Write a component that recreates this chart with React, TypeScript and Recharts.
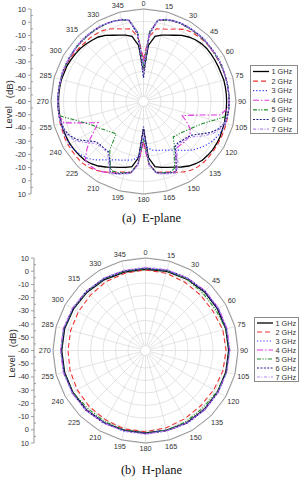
import React from 'react';
import {
  RadarChart, Radar, PolarGrid, PolarAngleAxis, PolarRadiusAxis, Legend,
  ComposedChart, YAxis, XAxis,
} from 'recharts';

// ---------- categories / ticks ----------
const seriesNames = ['1 GHz', '2 GHz', '3 GHz', '4 GHz', '5 GHz', '6 GHz', '7 GHz'];
const angleTicks = [0, 15, 30, 45, 60, 75, 90, 105, 120, 135, 150, 165, 180, 195, 210, 225, 240, 255, 270, 285, 300, 315, 330, 345];
const radialTicks = [-60, -50, -40, -30, -20, -10, 0, 10];
const levelTicks = [-70, -65, -60, -55, -50, -45, -40, -35, -30, -25, -20, -15, -10, -5, 0, 5, 10, 15, 20, 25, 30, 35, 40, 45, 50, 55, 60, 65, 70];

const eAngles = [
  0, 5, 10, 15, 20, 25, 30, 35, 40, 45, 50, 55,
  60, 65, 70, 75, 80, 85, 90, 95, 100, 105, 110, 115,
  120, 125, 130, 135, 140, 145, 150, 155, 160, 165, 170, 175,
  180, 185, 190, 195, 200, 205, 210, 215, 220, 225, 230, 235,
  240, 245, 250, 255, 260, 265, 270, 275, 280, 285, 290, 295,
  300, 305, 310, 315, 320, 325, 330, 335, 340, 345, 350, 355,
];
const hAngles = [0, 15, 30, 45, 60, 75, 90, 105, 120, 135, 150, 165, 180, 195, 210, 225, 240, 255, 270, 285, 300, 315, 330, 345];

// ---------- E-plane (dB) ----------
const e1GHz = [
  -40, -19, -11, -9, -7.5, -5.5, -3, -1, 0.5, 1.5, 2, 2,
  2, 2, 2, 2.5, 2.5, 2.5, 2.5, 2.5, 2.5, 3, 3, 3.5,
  3.5, 3.5, 3, 2.5, 1, -1, -3.5, -6, -8, -9.5, -11, -19,
  -42, -19, -11, -9.5, -8, -6, -3.5, -1, 1, 2.5, 3, 3.5,
  4, 4, 4, 4, 4, 4, 4, 4, 4, 4, 3.5, 3.5,
  3, 2.5, 2, 1, 0, -1, -3, -5.5, -7.5, -9, -11, -19,
];
const e2GHz = [
  -30, -12, -5, -4, -2.5, 0, 2.5, 3.5, 4, 4.5, 4.5, 4.5,
  4.5, 4.5, 4.5, 4.5, 4.5, 4.5, 4.5, 4.5, 4.5, 4.5, 4.5, 4.5,
  4.5, 4.5, 4.5, 4.5, 4, 3, 1, -1.5, -4, -5.5, -6.5, -14,
  -32, -14, -6.5, -5.5, -4, -1.5, 1, 3, 4.5, 5.5, 5.5, 5.5,
  5.5, 5.5, 5, 5, 4.5, 4.5, 4.5, 4.5, 4.5, 4.5, 4.5, 4.5,
  4, 3.5, 3, 2.5, 2.5, 2, 1.5, 0, -2, -4, -5, -12,
];
const e3GHz = [
  -36, -8, 2, 3.5, 4.5, 5, 5, 5, 5, 5, 5, 5,
  5, 4.5, 4.5, 4.5, 4.5, 4.5, 4.5, 4.5, 4.5, 4, 3, 1.5,
  -0.5, -3, -6, -9, -13, -16.5, -19, -21, -22.5, -23.5, -24.5, -27,
  -34, -20, -16.5, -15.5, -14, -12.5, -10, -7, -3, 0, 2, 3.5,
  4.5, 4.5, 4.5, 4.5, 4.5, 4.5, 4.5, 4.5, 4.5, 4.5, 4.5, 4.5,
  5, 5, 5, 5, 5, 5, 5, 5, 4.5, 3.5, 2, -8,
];
const e4GHz = [
  -32, -9, 1.5, 3.5, 4.5, 5, 5, 5, 5, 5, 4.5, 4.5,
  4.5, 4.5, 4.5, 4.5, 4.5, 4.5, 4.5, 3.5, -2, -22, -31, -26,
  -21, -18.5, -18, -18, -18.5, -18, -12, -2, -3.5, -5, -6.5, -13,
  -30, -13, -6.5, -5, -3, -1, 1, 2.5, 3, 2, -5, -12,
  -19, -24, -14, 2, 4, 4.5, 4.5, 4.5, 4.5, 4.5, 4.5, 4.5,
  4.5, 4.5, 5, 5, 5, 5, 5, 5, 4.5, 3.5, 1.5, -9,
];
const e5GHz = [
  -36, -8, 2, 3.5, 4.5, 5, 5, 5, 5, 5, 5, 4.5,
  4.5, 4.5, 4.5, 4.5, 4.5, 4.5, 4.5, 4.5, 3.5, -6, -13, -17.5,
  -20.5, -23, -25, -26, -27, -21, -15, -5, -3.5, -5, -6.5, -14,
  -34, -14, -6.5, -5, -3.5, -3, -10, -17, -30, -29, -27, -25,
  -22, -19, -14, -7, 3.5, 4.5, 4.5, 4.5, 4.5, 4.5, 4.5, 4.5,
  4.5, 5, 5, 5, 5, 5, 5, 5, 4.5, 3.5, 2, -8,
];
const e6GHz = [
  -45, -10, 2, 4, 5, 5.5, 5.5, 5.5, 5.5, 5.5, 5, 5,
  5, 5, 4.5, 4.5, 4.5, 4.5, 4.5, 4.5, 4, 3, 0, -5,
  -12, -17, -19, -20, -21, -20, -12, -2, -3, -4.5, -6, -14,
  -44, -14, -6, -4.5, -2.5, -1, -10, -15, -15, -15, -14, -9,
  -3, 1, 3, 4, 4.5, 4.5, 4.5, 4.5, 4.5, 4.5, 5, 5,
  5, 5, 5.5, 5.5, 5.5, 5.5, 5.5, 5, 4.5, 4, 2, -10,
];
const e7GHz = [
  -40, -9, 2, 4, 5, 5.5, 5.5, 5.5, 5.5, 5.5, 5, 5,
  5, 5, 4.5, 4.5, 4.5, 4.5, 4.5, 4.5, 4, 3, 1, -3,
  -9, -15, -18, -19, -20, -18, -9, -1, -2.5, -4, -5.5, -13,
  -40, -13, -5.5, -4, -2, -0.5, -8, -14, -14.5, -14, -12, -7,
  -1, 2, 3.5, 4, 4.5, 4.5, 4.5, 4.5, 4.5, 4.5, 5, 5,
  5, 5, 5.5, 5.5, 5.5, 5.5, 5.5, 5, 4.5, 4, 2, -9,
];

// ---------- H-plane (dB) ----------
const h1GHz = [1, 1.5, 2, 2.5, 2.5, 2.5, 2.5, 2.5, 2.5, 2.5, 2.5, 2, 2, 2, 2.5, 3, 3, 3, 3, 3, 2.5, 2, 1.5, 1];
const h2GHz = [0.5, 0, -1, -1.5, -1.5, 0, 0.5, 0, -1, -1.5, -1, 0, 1, 1, 0, -0.5, -1, -1.5, -2, -2, -2, -1.5, -0.5, 0];
const h3GHz = [1.5, 2, 2.5, 3, 3, 3, 3, 3, 3, 3, 2.5, 2, 2, 2, 2.5, 3, 3.5, 3.5, 3.5, 3.5, 3, 2.5, 2, 1.5];
const h4GHz = [2, 2.5, 3, 3.5, 3.5, 3.5, 3.5, 3, 3, 3, 3, 2.5, 2.5, 2.5, 3, 3.5, 3.5, 4, 4, 4, 3.5, 3, 2.5, 2];
const h5GHz = [1.5, 2, 2, 1, 1, 2.5, 3, 3, 2, 1, 1.5, 2, 2, 2, 1.5, 1.5, 3, 3.5, 3.5, 3.5, 3, 2.5, 2, 1.5];
const h6GHz = [2, 2.5, 3, 3, 3, 3, 3, 3, 3, 3, 3, 2.5, 2.5, 2.5, 3, 3.5, 3.5, 3.5, 3.5, 3.5, 3, 3, 2.5, 2];
const h7GHz = [2.5, 3, 3, 3.5, 3.5, 3.5, 3.5, 3.5, 3, 3, 3, 2.5, 3, 3, 3, 3.5, 4, 4, 4, 4, 3.5, 3, 3, 2.5];

const keys = ['g1', 'g2', 'g3', 'g4', 'g5', 'g6', 'g7'];

const buildRows = (angles: number[], cols: number[][]) =>
  angles.map((a, i) => {
    const row: any = { angle: a };
    cols.forEach((c, k) => { row[keys[k]] = c[i]; });
    return row;
  });

const eData = buildRows(eAngles, [e1GHz, e2GHz, e3GHz, e4GHz, e5GHz, e6GHz, e7GHz]);
const hData = buildRows(hAngles, [h1GHz, h2GHz, h3GHz, h4GHz, h5GHz, h6GHz, h7GHz]);

// ---------- styles ----------
const lineStyles = [
  { stroke: '#000000', dash: undefined as string | undefined, width: 1.3 },
  { stroke: '#ee3333', dash: '5 3', width: 1.1 },
  { stroke: '#3434ff', dash: '1.2 2', width: 1.2 },
  { stroke: '#e033e0', dash: '6 2 1.5 2', width: 1.1 },
  { stroke: '#1f8a2a', dash: '4 1.5 1.2 1.5 1.2 1.5', width: 1.1 },
  { stroke: '#22228a', dash: '2 1.4', width: 1.2 },
  { stroke: '#b58cf2', dash: '3 1.5 1 1.5', width: 1.1 },
];

const SANS = '"Liberation Sans", Arial, sans-serif';
const SERIF = '"Liberation Serif", "Times New Roman", serif';
const R = 92.5;

const AngleTick = (props: any) => {
  const { x, y, payload } = props;
  const v = Number(payload.value);
  const rad = (v * Math.PI) / 180;
  const sx = Math.sin(rad);
  const sy = -Math.cos(rad);
  const label = String(v);
  const w = label.length * 4.1;
  const h = 6.5;
  const off = Math.abs(sx) * (w / 2) + Math.abs(sy) * (h / 2) + 0.5;
  return (
    <text x={x + sx * off} y={y + sy * off} textAnchor="middle" dominantBaseline="central"
      fontSize={7.3} fill="#333" fontFamily={SANS}>{label}</text>
  );
};

const makeLegend = (rowGap: number, boxW: number, boxH: number, firstY: number) => (props: any) => {
  const payload = props.payload || [];
  return (
    <div style={{ width: boxW, height: boxH, border: '1px solid #8a8a8a', background: '#fff', boxSizing: 'border-box' }}>
      <svg width={boxW - 2} height={boxH - 2} style={{ display: 'block' }}>
        {payload.map((entry: any, i: number) => {
          const st = lineStyles[i];
          const yy = firstY + i * rowGap;
          return (
            <g key={i}>
              <line x1={2} x2={18} y1={yy} y2={yy} stroke={st.stroke} strokeWidth={st.width} strokeDasharray={st.dash} />
              <text x={20.5} y={yy} dominantBaseline="central" fontSize={7.3} fill="#333" fontFamily={SANS}>{entry.value}</text>
            </g>
          );
        })}
      </svg>
    </div>
  );
};

const LevelTick = (props: any) => {
  const { x, y, payload } = props;
  const v = Number(payload.value);
  const major = v % 10 === 0;
  return (
    <g>
      <line x1={x} x2={major ? x - 3 : x + 2} y1={y} y2={y} stroke="#8a8a8a" strokeWidth={0.8} />
      {major && (
        <text x={x - 5} y={y} textAnchor="end" dominantBaseline="central" fontSize={7.5} fill="#333" fontFamily={SANS}>
          {Math.abs(v) - 60}
        </text>
      )}
    </g>
  );
};

type PanelProps = {
  data: any[];
  top: number;
  height: number;
  cx: number;
  cy: number;
  axisX: number;
  labelX: number;
  legend: { left: number; top: number; w: number; h: number; gap: number; first: number };
  title: string;
  titleY: number;
};

function Panel(p: PanelProps) {
  const LegendContent = makeLegend(p.legend.gap, p.legend.w, p.legend.h, p.legend.first);
  const levelData = levelTicks.map((t) => ({ t }));
  return (
    <>
      <div style={{ position: 'absolute', left: 0, top: p.top, width: 303, height: p.height }}>
        <RadarChart width={303} height={p.height} cx={p.cx} cy={p.cy} outerRadius={R} innerRadius={5}
          startAngle={90} endAngle={-270} data={p.data} margin={{ top: 0, right: 0, bottom: 0, left: 0 }}>
          <PolarGrid gridType="circle" stroke="#d2d2d2" strokeWidth={0.6} />
          <PolarAngleAxis dataKey="angle" type="number" domain={[0, 360]} ticks={angleTicks}
            tickLine={false} tickSize={1.5} axisLine={{ stroke: '#8a8a8a', strokeWidth: 0.9 }} tick={AngleTick} />
          <PolarRadiusAxis type="number" domain={[-60, 10]} ticks={radialTicks} tickCount={8}
            tick={false} axisLine={false} />
          {keys.map((k, i) => (
            <Radar key={k} dataKey={k} name={seriesNames[i]} stroke={lineStyles[i].stroke}
              strokeWidth={lineStyles[i].width} strokeDasharray={lineStyles[i].dash}
              fill="none" fillOpacity={0} dot={false} isAnimationActive={false} />
          ))}
          <Legend content={LegendContent}
            wrapperStyle={{ position: 'absolute', left: p.legend.left, top: p.legend.top, width: p.legend.w, height: p.legend.h }} />
        </RadarChart>
      </div>
      <div style={{ position: 'absolute', left: 0, top: p.top, width: 45, height: p.height }}>
        <ComposedChart width={45} height={p.height} data={levelData}
          margin={{ top: p.cy - R, bottom: p.height - (p.cy + R), left: 0, right: 0 }}>
          <XAxis hide dataKey="t" />
          <YAxis type="number" domain={[-70, 70]} ticks={levelTicks} interval={0} width={p.axisX}
            tickSize={0} tickMargin={0} tick={LevelTick} axisLine={{ stroke: '#8a8a8a', strokeWidth: 0.9 }}
            allowDataOverflow
            label={(lp: any) => {
              const cy = p.cy + 3;
              return (
                <text transform={`rotate(-90 ${p.labelX} ${cy})`} x={p.labelX} y={cy} textAnchor="middle"
                  dominantBaseline="central" fontSize={9.5} fill="#333" fontFamily={SANS}>
                  Level<tspan dx={8}>(dB)</tspan>
                </text>
              );
            }} />
        </ComposedChart>
      </div>
      <div style={{ position: 'absolute', left: 0, top: p.titleY - 8, width: 303, height: 16, lineHeight: '16px',
        textAlign: 'center', fontFamily: SERIF, fontSize: 12.5, color: '#111', whiteSpace: 'pre' }}>
        {p.title}
      </div>
    </>
  );
}

export default function App() {
  return (
    <div style={{ position: 'absolute', left: 0, top: 0, width: 303, height: 489, background: '#fff', overflow: 'hidden' }}>
      <Panel data={eData} top={0} height={230} cx={143.5} cy={101.5} axisX={31} labelX={8.5}
        legend={{ left: 250, top: 65, w: 48, h: 69, gap: 9.6, first: 5.5 }} title={'(a)  E-plane'} titleY={218} />
      <Panel data={hData} top={240} height={216} cx={145.5} cy={110.5} axisX={34} labelX={11.5}
        legend={{ left: 254, top: 77, w: 45, h: 65, gap: 9, first: 5 }} title={'(b)  H-plane'} titleY={470} />
    </div>
  );
}
